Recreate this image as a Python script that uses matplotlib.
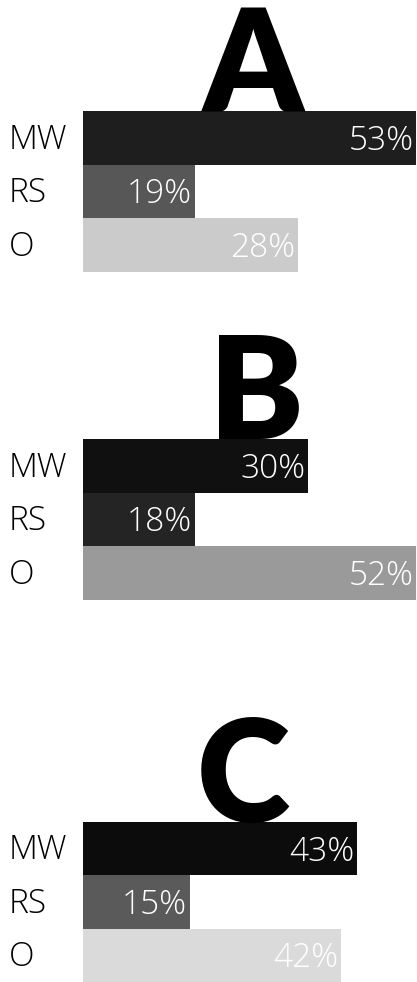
import matplotlib
matplotlib.use("Agg")
import matplotlib.pyplot as plt

# Data
panels = ["A", "B", "C"]
categories = ["MW", "RS", "O"]
pct_a = [53, 19, 28]
pct_b = [30, 18, 52]
pct_c = [43, 15, 42]
# drawn bar lengths (in the same % scale)
len_a = [53.0, 17.8, 34.2]
len_b = [35.8, 17.8, 53.0]
len_c = [43.6, 17.0, 41.1]
colors_a = ["#1e1e1e", "#575757", "#cbcbcb"]
colors_b = ["#101010", "#242424", "#9a9a9a"]
colors_c = ["#0c0c0c", "#5a5a5a", "#dadada"]

W, H = 417, 982
fig = plt.figure(figsize=(W / 100, H / 100), dpi=100)

thin = ["Open Sans", "DejaVu Sans"]
heavy = ["Lato", "DejaVu Sans"]

# pixel boxes of the bar areas: (top, bottom), plus letter centre x
boxes = [(111, 272, 253), (439, 600, 256), (822, 982, 243)]
x0, x1 = 83, 416

for name, pcts, lens, cols, (top, bot, lx) in zip(
        panels, [pct_a, pct_b, pct_c], [len_a, len_b, len_c],
        [colors_a, colors_b, colors_c], boxes):
    ax = fig.add_axes([x0 / W, 1 - bot / H, (x1 - x0) / W, (bot - top) / H])
    ax.set_xlim(0, 53)
    ax.set_ylim(2.5, -0.5)
    ax.axis("off")
    ypos = range(len(categories))
    ax.barh(ypos, lens, height=1.0, color=cols, zorder=2)
    for y, v, l in zip(ypos, pcts, lens):
        ax.text(l - 0.4, y + 0.06, f"{v}%", color="white", ha="right",
                va="center", fontsize=24, family=thin, fontweight="light",
                zorder=3)
    for y, c in zip(ypos, categories):
        fig.text(9 / W, 1 - (top + (bot - top) * (y + 0.5) / 3 + 2) / H, c,
                 ha="left", va="center", fontsize=24, family=thin,
                 fontweight="light", color="black")
    # big panel letter sitting on the top bar
    fig.text(lx / W, 1 - top / H, name, ha="center", va="baseline",
             fontsize=102, fontweight="heavy", family=heavy,
             color="black", zorder=1)

fig.savefig("out.png", dpi=100, facecolor="white")
